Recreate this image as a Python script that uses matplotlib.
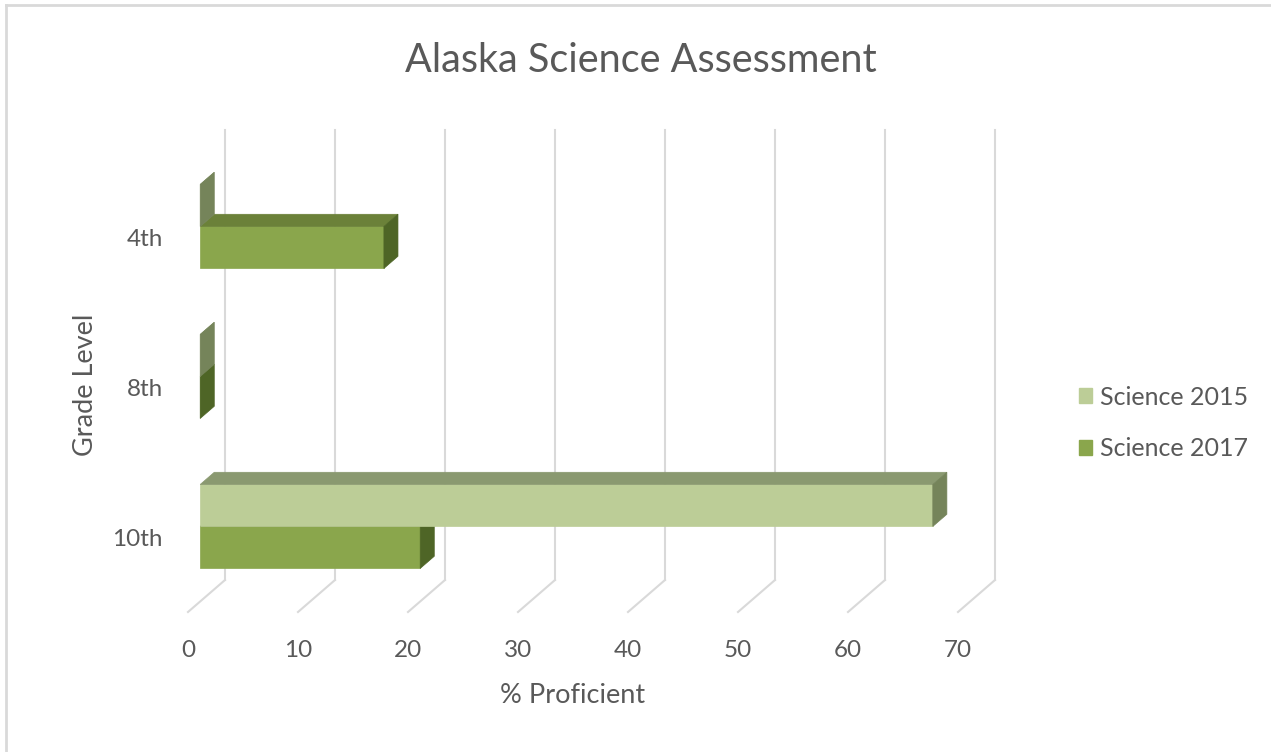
import numpy as np
import matplotlib.pyplot as plt
from matplotlib.patches import Polygon

# data
grades = ['4th', '8th', '10th']
sci_2015 = [0, 0, 66.6]
sci_2017 = [16.7, 0, 20]
xticks = [0, 10, 20, 30, 40, 50, 60, 70]

# face colours: front, top, side
col_2015 = ['#bccd97', '#8a9970', '#75845a']
col_2017 = ['#8aa64c', '#6b8139', '#4e6526']
grid_col = '#d9d9d9'
txt_col = '#595959'

plt.rcParams['font.family'] = ['Lato', 'DejaVu Sans']

W, H = 1271, 752
fig = plt.figure(figsize=(W / 100, H / 100), dpi=100)

# axes: front plane, 0..70 -> 188..958 px, categories 4th/8th/10th at 237/387/537 px
left, right, top, bottom = 188, 958, 162, 612
ax = fig.add_axes([left / W, 1 - bottom / H, (right - left) / W, (bottom - top) / H])
ax.set_xlim(0, 70)
ax.set_ylim(2.5, -0.5)
for s in ax.spines.values():
    s.set_visible(False)

px_x = (right - left) / 70.0
px_y = (bottom - top) / 3.0
# depth of the back wall in data units
dx = 37 / px_x
dy = -32 / px_y
# bars sit between these depth fractions
f0, f1 = 0.33, 0.71
bh = 42 / px_y

# back wall gridlines + floor diagonals
for v in xticks:
    ax.plot([v + dx, v + dx], [-0.5 + dy, 2.5 + dy], color=grid_col, lw=1.5, clip_on=False, zorder=1)
    ax.plot([v, v + dx], [2.5, 2.5 + dy], color=grid_col, lw=1.5, clip_on=False, zorder=1)


def bar3d(v, y0, y1, cols, z):
    # front face, top face, right face
    ox0, oy0 = f0 * dx, f0 * dy
    ox1, oy1 = f1 * dx, f1 * dy
    front = [(ox0, y0 + oy0), (v + ox0, y0 + oy0), (v + ox0, y1 + oy0), (ox0, y1 + oy0)]
    topf = [(ox0, y0 + oy0), (v + ox0, y0 + oy0), (v + ox1, y0 + oy1), (ox1, y0 + oy1)]
    side = [(v + ox0, y0 + oy0), (v + ox0, y1 + oy0), (v + ox1, y1 + oy1), (v + ox1, y0 + oy1)]
    for pts, c in [(front, cols[0]), (topf, cols[1]), (side, cols[2])]:
        ax.add_patch(Polygon(pts, closed=True, facecolor=c, edgecolor=c, lw=0.5,
                             clip_on=False, zorder=z))


ypos = np.arange(len(grades))
z = 3
for i in range(len(grades)):
    c = ypos[i]
    # lower bar first so the upper bar front face hides its top
    bar3d(sci_2017[i], c, c + bh, col_2017, z)
    z += 1
    bar3d(sci_2015[i], c - bh, c, col_2015, z)
    z += 1

ax.set_xticks(xticks)
ax.set_xticklabels([str(t) for t in xticks])
ax.set_yticks(ypos)
ax.set_yticklabels(grades)
ax.tick_params(axis='x', length=0, pad=20, labelsize=17.5, colors=txt_col)
ax.tick_params(axis='y', length=0, pad=18, labelsize=17.5, colors=txt_col)

ax.set_xlabel('% Proficient', fontsize=19.5, color=txt_col)
ax.xaxis.set_label_coords(0.5, -0.158)
ax.set_ylabel('Grade Level', fontsize=19.5, color=txt_col)
ax.yaxis.set_label_coords(-0.117, 0.505)

fig.text(641 / W, 1 - 60 / H, 'Alaska Science Assessment', ha='center', va='center',
         fontsize=28.5, color=txt_col)

# legend
handles = [plt.Rectangle((0, 0), 1, 1, color=col_2015[0]),
           plt.Rectangle((0, 0), 1, 1, color=col_2017[0])]
fig.legend(handles, ['Science 2015', 'Science 2017'], loc='center left',
           bbox_to_anchor=(1056 / W, 1 - 423 / H), frameon=False, fontsize=18,
           handlelength=0.55, handleheight=0.55, handletextpad=0.3, labelspacing=1.15,
           labelcolor=txt_col)

# chart border (left and top edges visible)
fig.add_artist(plt.Line2D([6 / W, 6 / W], [0, 1 - 5 / H], color='#d9d9d9', lw=2))
fig.add_artist(plt.Line2D([6 / W, 1], [1 - 5 / H, 1 - 5 / H], color='#d9d9d9', lw=2))

fig.savefig('out.png', dpi=100, facecolor='white')
